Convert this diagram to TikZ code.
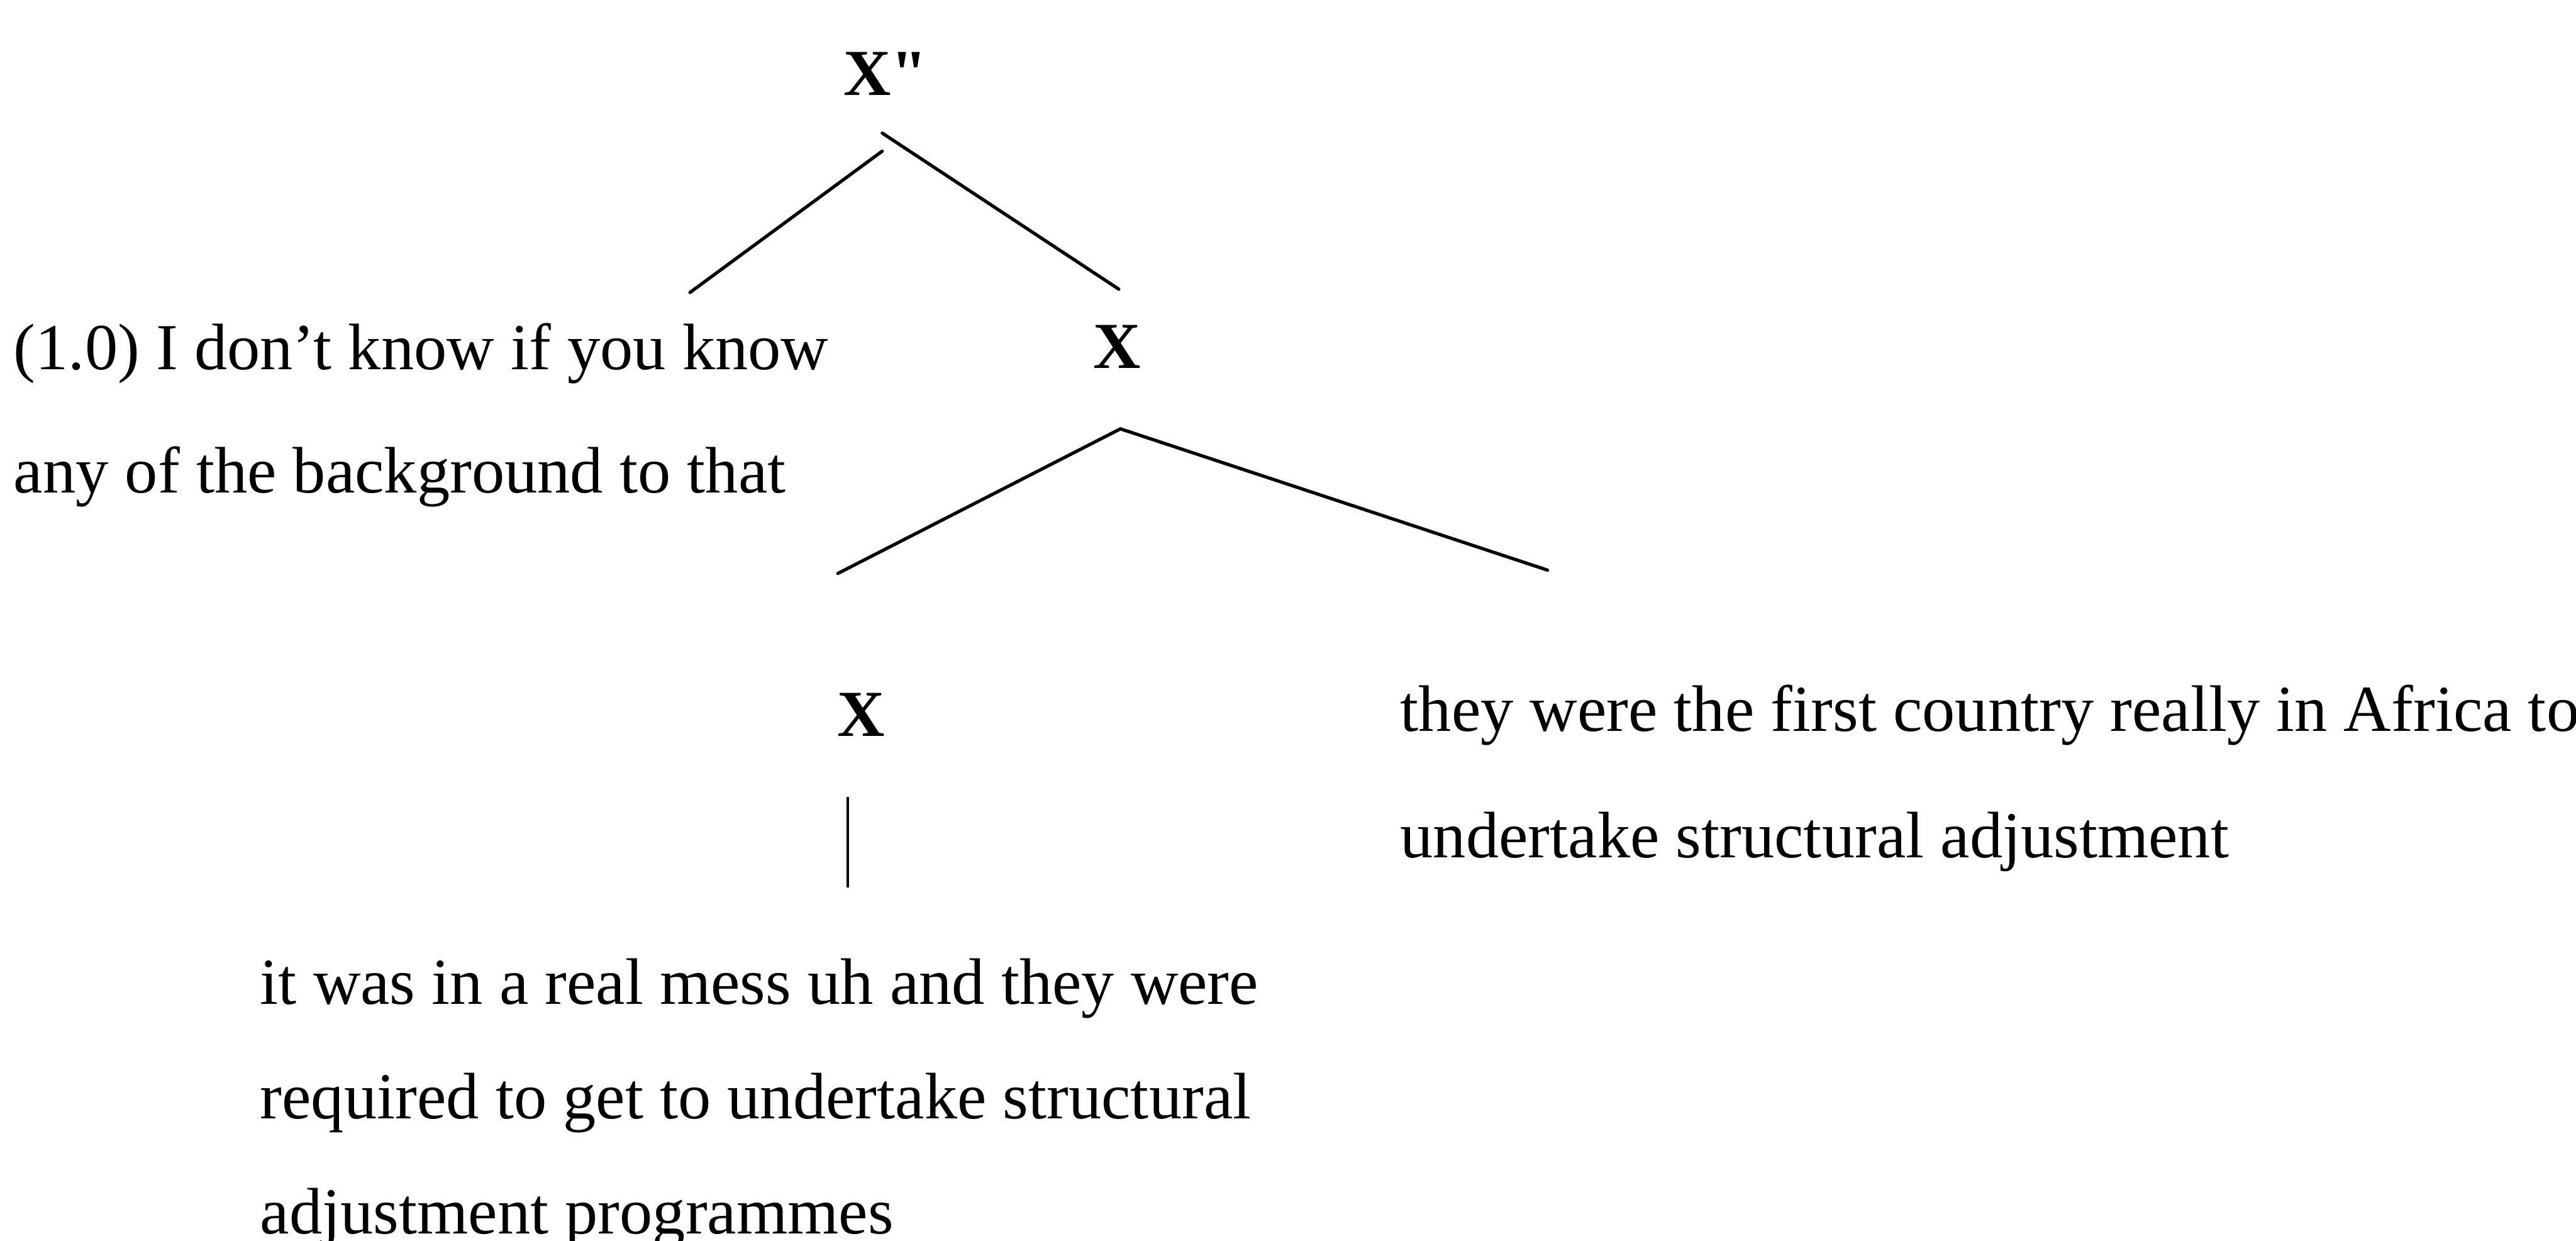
\documentclass[tikz,border=0pt]{standalone}
\usepackage{fontspec}
\setmainfont{Liberation Serif}
\newfontfamily\catfont{Liberation Serif}

\begin{document}
\begin{tikzpicture}[
    x=0.5pt, y=-0.5pt,
    every node/.style={font=\fontsize{20}{24}\selectfont, inner sep=0pt},
    cat/.style={font=\fontsize{20}{24}\selectfont\catfont\bfseries, anchor=base},
    yield/.style={anchor=base west, align=left},
    branch/.style={line width=1pt, line cap=round},
    stem/.style={line width=0.6pt}
  ]
    \useasboundingbox (0,0) rectangle (1568,755);
    % categories
    \node[cat] (xbar) at (539,58) {X"};
    \node[cat] (xmid) at (680,224) {X};
    \node[cat] (xlow) at (524,448) {X};
    % yields (base = last line)
    \node[yield, font=\fontsize{20}{37.5}\selectfont] (yleft) at (8,300) {(1.0) I don’t know if you know\\any of the background to that};
    \node[yield, font=\fontsize{20}{38.5}\selectfont] (yright) at (852,522) {they were the first country really in Africa to\\undertake structural adjustment};
    \node[yield, font=\fontsize{20}{35}\selectfont] (ylow) at (158,751) {it was in a real mess uh and they were\\required to get to undertake structural\\adjustment programmes};
    % branch ends
    \coordinate (xbar-l) at (537,92);
    \coordinate (xbar-r) at (537,81);
    \coordinate (left-end) at (420,178);
    \coordinate (mid-end) at (681,176);
    \coordinate (xmid-top) at (682,261);
    \coordinate (low-end) at (510,349);
    \coordinate (right-end) at (942,347);
    \coordinate (xlow-top) at (516,485);
    \coordinate (stem-end) at (516,540);
    \draw[branch] (xbar-l) -- (left-end);
    \draw[branch] (xbar-r) -- (mid-end);
    \draw[branch] (xmid-top) -- (low-end);
    \draw[branch] (xmid-top) -- (right-end);
    \draw[stem] (xlow-top) -- (stem-end);
  \end{tikzpicture}
\end{document}
